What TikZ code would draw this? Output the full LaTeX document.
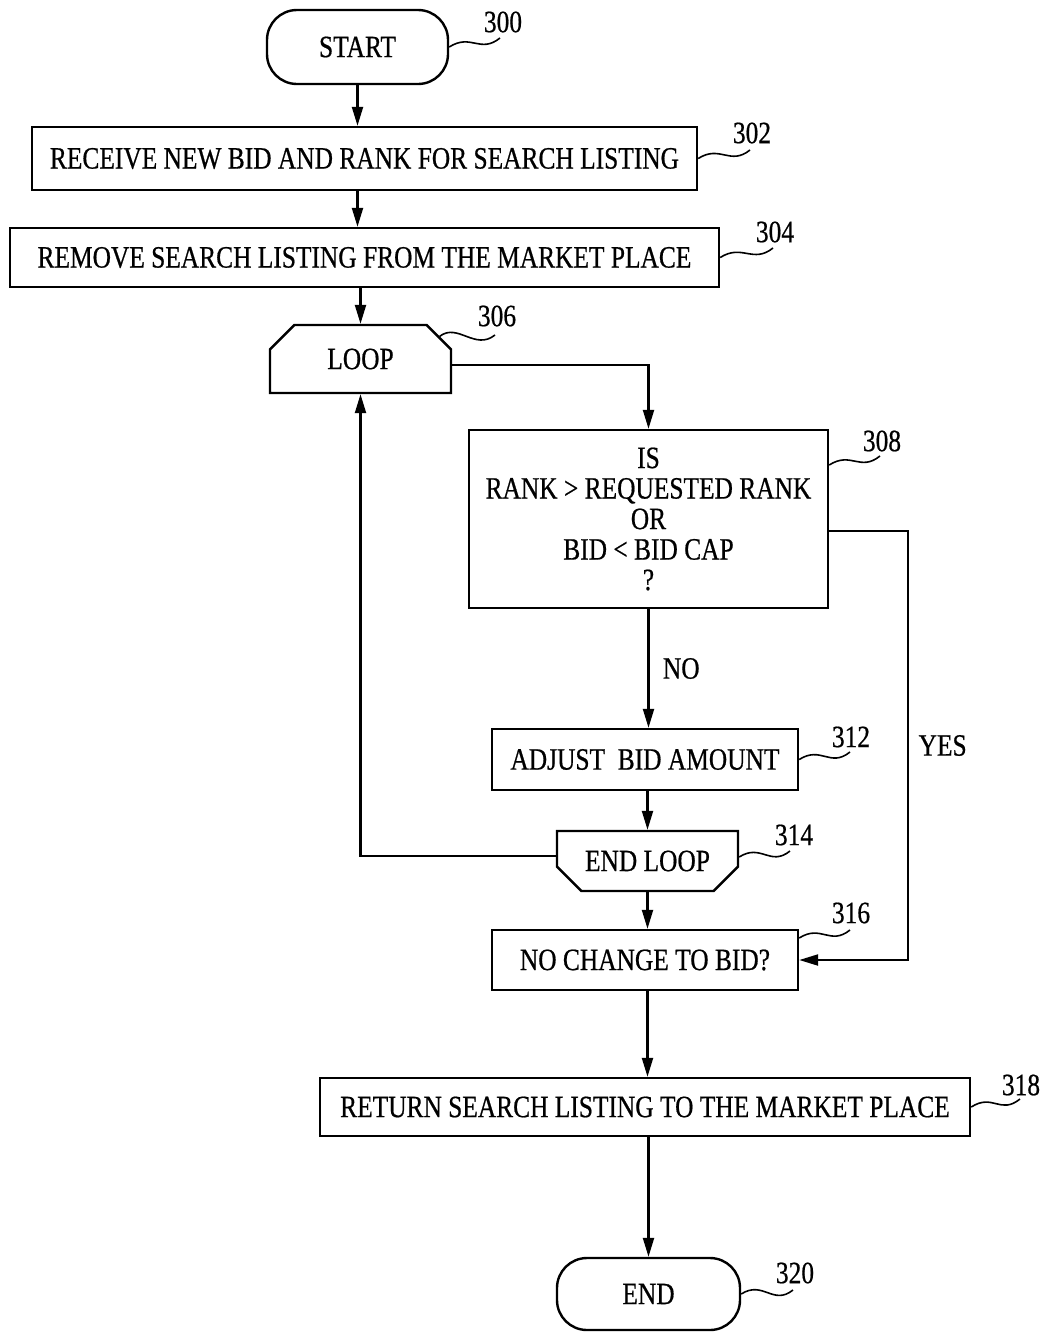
\documentclass[tikz,border=0pt]{standalone}
\usepackage{fontspec}
\setmainfont{Liberation Serif}[FakeStretch=0.82,FakeBold=0.6]
\usetikzlibrary{shapes.misc,arrows.meta}
\begin{document}
\begin{tikzpicture}[x=1pt,y=-1pt,
  txt/.style={font=\fontsize{31}{32}\selectfont},
  box/.style={draw,line width=2.4pt,inner sep=0pt,align=center,txt},
  term/.style={box,rounded corners=30pt},
  loopbox/.style={box,chamfered rectangle,chamfered rectangle xsep=14pt,chamfered rectangle ysep=14pt},
  arr/.style={line width=2.2pt,-{Triangle[length=19pt,width=11pt]}},
  sq/.style={line width=1.6pt},
  lab/.style={txt,inner sep=0pt}]
\useasboundingbox (0,0) rectangle (1046,1334);
\node[term,minimum width=181pt,minimum height=74pt] (start) at (357.5,47) {START};
\node[box,minimum width=665pt,minimum height=63pt] (n302) at (364.5,158.5) {RECEIVE NEW BID AND RANK FOR SEARCH LISTING};
\node[box,minimum width=709pt,minimum height=59pt] (n304) at (364.5,257.5) {REMOVE SEARCH LISTING FROM THE MARKET PLACE};
\node[loopbox,chamfered rectangle corners={north west,north east},minimum width=181pt,minimum height=68pt] (n306) at (360.5,359) {LOOP};
\node[box,minimum width=359pt,minimum height=178pt,font=\fontsize{31}{30.5}\selectfont] (n308) at (648.5,519) {IS\\RANK \textgreater{} REQUESTED RANK\\OR\\BID \textless{} BID CAP\\?};
\node[box,minimum width=306pt,minimum height=61pt] (n312) at (645,759.5) {ADJUST~ BID AMOUNT};
\node[loopbox,chamfered rectangle corners={south west,south east},minimum width=181pt,minimum height=60pt] (n314) at (647.5,861) {END LOOP};
\node[box,minimum width=306pt,minimum height=60pt] (n316) at (645,960) {NO CHANGE TO BID?};
\node[box,minimum width=650pt,minimum height=58pt] (n318) at (645,1107) {RETURN SEARCH LISTING TO THE MARKET PLACE};
\node[term,minimum width=183pt,minimum height=72pt] (end) at (648.5,1294) {END};
% reference numerals
\node[lab] (l300) at (503,22) {300};
\node[lab] (l302) at (752,133) {302};
\node[lab] (l304) at (775,232) {304};
\node[lab] (l306) at (497,316) {306};
\node[lab] (l308) at (882,441) {308};
\node[lab] (l312) at (851,737) {312};
\node[lab] (l314) at (794,835) {314};
\node[lab] (l316) at (851,913) {316};
\node[lab] (l318) at (1021,1085) {318};
\node[lab] (l320) at (795,1273) {320};
\coordinate (c300) at (500,38);
\coordinate (c302) at (750,150);
\coordinate (c304) at (773,248);
\coordinate (c306) at (495,335);
\coordinate (c308) at (880,456);
\coordinate (c312) at (850,752);
\coordinate (c314) at (790,851);
\coordinate (c316) at (850,930);
\coordinate (c318) at (1020,1099);
\coordinate (c320) at (793,1290);
\draw[sq] (start.east) .. controls +(22,-14) and +(-20,16) .. (c300);
\draw[sq] (n302.east) .. controls +(22,-14) and +(-20,16) .. (c302);
\draw[sq] (n304.east) .. controls +(22,-14) and +(-20,16) .. (c304);
\draw[sq] (n306.north east) .. controls +(18,-14) and +(-20,16) .. (c306);
\draw[sq] ([yshift=54pt]n308.east) .. controls +(22,-14) and +(-20,16) .. (c308);
\draw[sq] (n312.east) .. controls +(22,-14) and +(-20,16) .. (c312);
\draw[sq] ([yshift=4pt]n314.east) .. controls +(22,-14) and +(-20,16) .. (c314);
\draw[sq] ([yshift=22pt]n316.east) .. controls +(22,-14) and +(-20,16) .. (c316);
\draw[sq] (n318.east) .. controls +(22,-14) and +(-20,16) .. (c318);
\draw[sq] (end.east) .. controls +(22,-14) and +(-20,16) .. (c320);
% connectors
\draw[arr] (start.south) -- (start.south |- n302.north);
\draw[arr] (n302.south -| start.south) -- (n304.north -| start.south);
\draw[arr] (n304.south -| n306.north) -- (n306.north);
\draw[arr] ([yshift=-6pt]n306.east) -| (n308.north);
\draw[arr] (n308.south) -- (n308.south |- n312.north) node[midway,right=10pt,txt] {NO};
\draw[arr] (n312.south -| n314.north) -- (n314.north);
\draw[arr] (n314.south) -- (n314.south |- n316.north);
\draw[arr] (n316.south -| n314.south) -- (n318.north -| n314.south);
\draw[arr] (n318.south -| end.north) -- (end.north);
\draw[arr] ([yshift=5pt]n314.west) -| (n306.south);
\draw[arr] ([yshift=-12pt]n308.east) -- ++(79,0) |- (n316.east) node[pos=0.25,right=6pt,txt] {YES};
\end{tikzpicture}
\end{document}
